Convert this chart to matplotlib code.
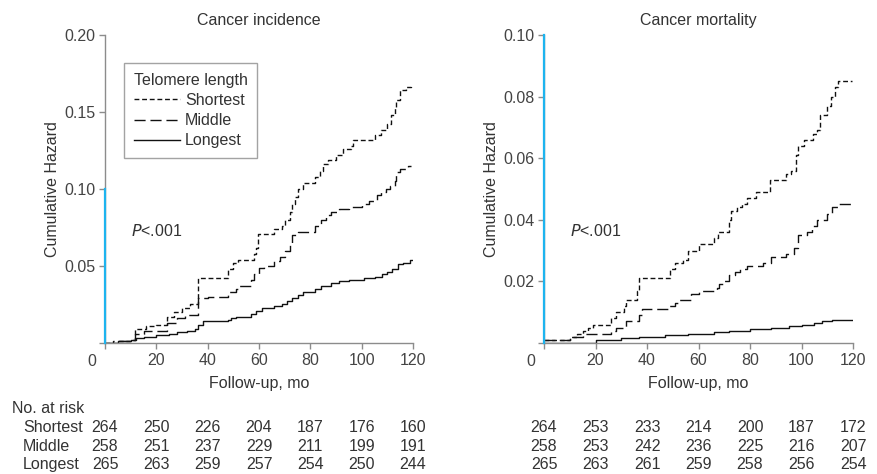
import matplotlib
matplotlib.use('Agg')
from matplotlib import pyplot as plt
from matplotlib import transforms

plt.rcParams['font.family'] = ['Liberation Sans', 'DejaVu Sans']

# ---- data ----
groups = ['Shortest', 'Middle', 'Longest']
titles = ['Cancer incidence', 'Cancer mortality']
x_ticks = [0, 20, 40, 60, 80, 100, 120]

inc_short_t = [0, 5, 10, 11.7, 16, 20, 24, 27, 30, 33, 36.3, 48, 50, 52, 58, 59, 59.7, 66, 69, 70, 72, 73, 74, 75, 77,
               82, 83.7, 85, 87, 90, 92.7, 96, 96.6, 105, 107.7, 110, 111.6, 113, 113.5, 114.8, 117.4, 119.4]
inc_short_v = [0, 0.001, 0.002, 0.009, 0.011, 0.012, 0.017, 0.020, 0.023, 0.025, 0.042, 0.048, 0.052, 0.054, 0.058,
               0.062, 0.071, 0.074, 0.076, 0.080, 0.085, 0.090, 0.095, 0.100, 0.104,
               0.108, 0.112, 0.116, 0.119, 0.122, 0.126, 0.128, 0.132, 0.135, 0.138, 0.142, 0.148, 0.153, 0.158,
               0.164, 0.166, 0.168]

inc_mid_t = [0, 3, 10, 11.7, 15, 24, 28, 31, 36.3, 40, 48, 51, 52, 57, 58, 60, 62, 66, 68, 70, 72, 73, 75, 82, 84, 86,
             88, 91, 95, 100, 103, 106, 107.5, 109.6, 111, 113, 113.5, 114.8, 118, 119.4]
inc_mid_v = [0, 0.001, 0.002, 0.006, 0.008, 0.013, 0.016, 0.018, 0.029, 0.030, 0.033, 0.035, 0.037, 0.041, 0.045,
             0.049, 0.050, 0.053, 0.056, 0.060, 0.065, 0.070, 0.072, 0.076, 0.080, 0.083, 0.085, 0.087, 0.088,
             0.090, 0.092, 0.096, 0.098, 0.100, 0.102, 0.105, 0.111, 0.113, 0.115, 0.115]

inc_long_t = [0, 5, 10, 12, 15, 20, 25, 28, 32, 35, 36.3, 38, 48, 49, 51, 57, 59, 61, 66, 69, 71, 73, 75, 77, 82, 84,
              88, 91, 95, 101, 105, 108, 110, 112, 114, 116, 119, 119.5]
inc_long_v = [0, 0.001, 0.002, 0.003, 0.004, 0.005, 0.006, 0.007, 0.008, 0.009, 0.012, 0.014, 0.015, 0.016, 0.017,
              0.019, 0.021, 0.023, 0.024, 0.025, 0.027, 0.029, 0.031, 0.033, 0.035, 0.037, 0.039, 0.040, 0.041,
              0.042, 0.043, 0.045, 0.046, 0.048, 0.051, 0.052, 0.054, 0.054]

mort_short_t = [0, 10, 13, 15, 17, 19, 26, 28, 31, 32, 36, 37, 49, 51, 54, 56, 60, 66, 67.5, 72, 72.5, 75, 77, 79,
                82.5, 87.7, 94, 96, 98, 98.7, 101, 104.5, 106, 107, 110, 111.6, 112.9, 114, 119.4]
mort_short_v = [0.001, 0.002, 0.003, 0.004, 0.005, 0.006, 0.008, 0.010, 0.012, 0.014, 0.017, 0.021, 0.024, 0.026,
                0.027, 0.030, 0.032, 0.034, 0.036, 0.040, 0.043, 0.044, 0.045, 0.047, 0.049, 0.053, 0.055, 0.056,
                0.061, 0.064, 0.066, 0.068, 0.069, 0.074, 0.077, 0.080, 0.083, 0.085, 0.085]

mort_mid_t = [0, 10, 15, 26, 28, 32, 37, 38, 48, 51, 52, 57, 60, 67, 68, 70, 72, 74, 76, 79, 85, 88, 94, 97, 98.5,
              102, 104, 106, 110, 112, 114, 119.4]
mort_mid_v = [0.001, 0.002, 0.003, 0.004, 0.005, 0.007, 0.009, 0.011, 0.012, 0.013, 0.014, 0.016, 0.017, 0.018,
              0.019, 0.020, 0.022, 0.023, 0.024, 0.025, 0.026, 0.028, 0.029, 0.031, 0.035, 0.036, 0.038, 0.040,
              0.042, 0.044, 0.045, 0.045]

mort_long_t = [0, 20, 30, 37, 47, 56, 66, 72, 80, 88, 95, 100, 105, 108, 112, 120]
mort_long_v = [0, 0.001, 0.0015, 0.002, 0.0025, 0.003, 0.0035, 0.004, 0.0045, 0.005, 0.0055, 0.006, 0.0065,
               0.007, 0.0075, 0.0075]

inc_risk = [[264, 250, 226, 204, 187, 176, 160],
            [258, 251, 237, 229, 211, 199, 191],
            [265, 263, 259, 257, 254, 250, 244]]
mort_risk = [[264, 253, 233, 214, 200, 187, 172],
             [258, 253, 242, 236, 225, 216, 207],
             [265, 263, 261, 259, 258, 256, 254]]

inc_yticks = [0, 0.05, 0.10, 0.15, 0.20]
inc_ylabels = ['', '0.05', '0.10', '0.15', '0.20']
mort_yticks = [0, 0.02, 0.04, 0.06, 0.08, 0.10]
mort_ylabels = ['', '0.02', '0.04', '0.06', '0.08', '0.10']

# ---- style ----
FS = 11.5
GREY = '#8c8c8c'
BLUE = '#1db4ef'
TXT = '#333333'
styles = [dict(ls=(0, (3.5, 2.0))), dict(ls=(0, (8, 3.5))), dict(ls='-')]

fig = plt.figure(figsize=(8.78, 4.74), dpi=100)
ax1 = fig.add_axes([0.1196, 0.2764, 0.3508, 0.6498])
ax2 = fig.add_axes([0.6196, 0.2764, 0.3520, 0.6498])

panels = [
    (ax1, [(inc_short_t, inc_short_v), (inc_mid_t, inc_mid_v), (inc_long_t, inc_long_v)],
     inc_yticks, inc_ylabels, 0.20, inc_risk),
    (ax2, [(mort_short_t, mort_short_v), (mort_mid_t, mort_mid_v), (mort_long_t, mort_long_v)],
     mort_yticks, mort_ylabels, 0.10, mort_risk),
]

risk_y = [0.099, 0.059, 0.019]

for i, (ax, curves, yt, yl, ymax, risk) in enumerate(panels):
    for (t, v), name, st in zip(curves, groups, styles):
        ax.step(t, v, where='post', color='#111111', lw=1.0, label=name, **st)

    ax.set_xlim(0, 120)
    ax.set_ylim(0, ymax)
    for s in ['top', 'right']:
        ax.spines[s].set_visible(False)
    ax.spines['left'].set_color(GREY)
    ax.spines['bottom'].set_color(GREY)
    ax.spines['left'].set_linewidth(1.0)
    ax.spines['bottom'].set_linewidth(1.0)

    ax.set_xticks(x_ticks)
    ax.set_xticklabels([''] + [str(x) for x in x_ticks[1:]])
    ax.set_yticks(yt)
    ax.set_yticklabels(yl)
    ax.tick_params(direction='out', length=4, width=1, color=GREY, labelcolor='#444444',
                   labelsize=FS, pad=3)

    # blue segment of the y axis from 0 to 0.10
    ax.plot([0, 0], [0, 0.10], color=BLUE, lw=1.6, clip_on=False, zorder=6)
    for tk, val in zip(ax.yaxis.get_major_ticks(), yt):
        if val <= 0.10 + 1e-9:
            tk.tick1line.set_color(BLUE)

    ax.annotate('0', xy=(0, 0), xycoords=('data', 'axes fraction'), xytext=(-9.5, -13.5),
                textcoords='offset points', ha='center', va='center', fontsize=FS, color='#444444')

    ax.set_title(titles[i], fontsize=FS, color=TXT, pad=7)
    ax.set_xlabel('Follow-up, mo', fontsize=FS, color=TXT)
    ax.xaxis.set_label_coords(0.5, -0.13)
    ax.xaxis.label.set_va('center')
    ax.set_ylabel('Cumulative Hazard', fontsize=FS, color=TXT)
    ax.yaxis.set_label_coords(-0.17, 0.5)
    ax.yaxis.label.set_va('center')

    ax.text(10.1, ymax * 0.364, r'$\it{P}$<.001', fontsize=FS, color=TXT, va='center')

    tr = transforms.blended_transform_factory(ax.transData, fig.transFigure)
    for row, yy in zip(risk, risk_y):
        for x, n in zip(x_ticks, row):
            ax.text(x, yy, str(n), transform=tr, ha='center', va='center', fontsize=FS,
                    color=TXT, clip_on=False)

leg = ax1.legend(loc='upper left', bbox_to_anchor=(0.062, 0.909), borderaxespad=0,
                 title='Telomere length', fontsize=FS, title_fontsize=FS, frameon=True,
                 fancybox=False, edgecolor=GREY, handlelength=2.9, handletextpad=0.3,
                 labelspacing=0.33, borderpad=0.6, alignment='left')
leg.get_frame().set_linewidth(1.0)
for t in leg.get_texts():
    t.set_color(TXT)
leg.get_title().set_color(TXT)

fig.text(0.0137, 0.139, 'No. at risk', fontsize=FS, color=TXT, va='center')
for name, yy in zip(groups, risk_y):
    fig.text(0.026, yy, name, fontsize=FS, color=TXT, va='center')

fig.savefig('out.png', dpi=100)
